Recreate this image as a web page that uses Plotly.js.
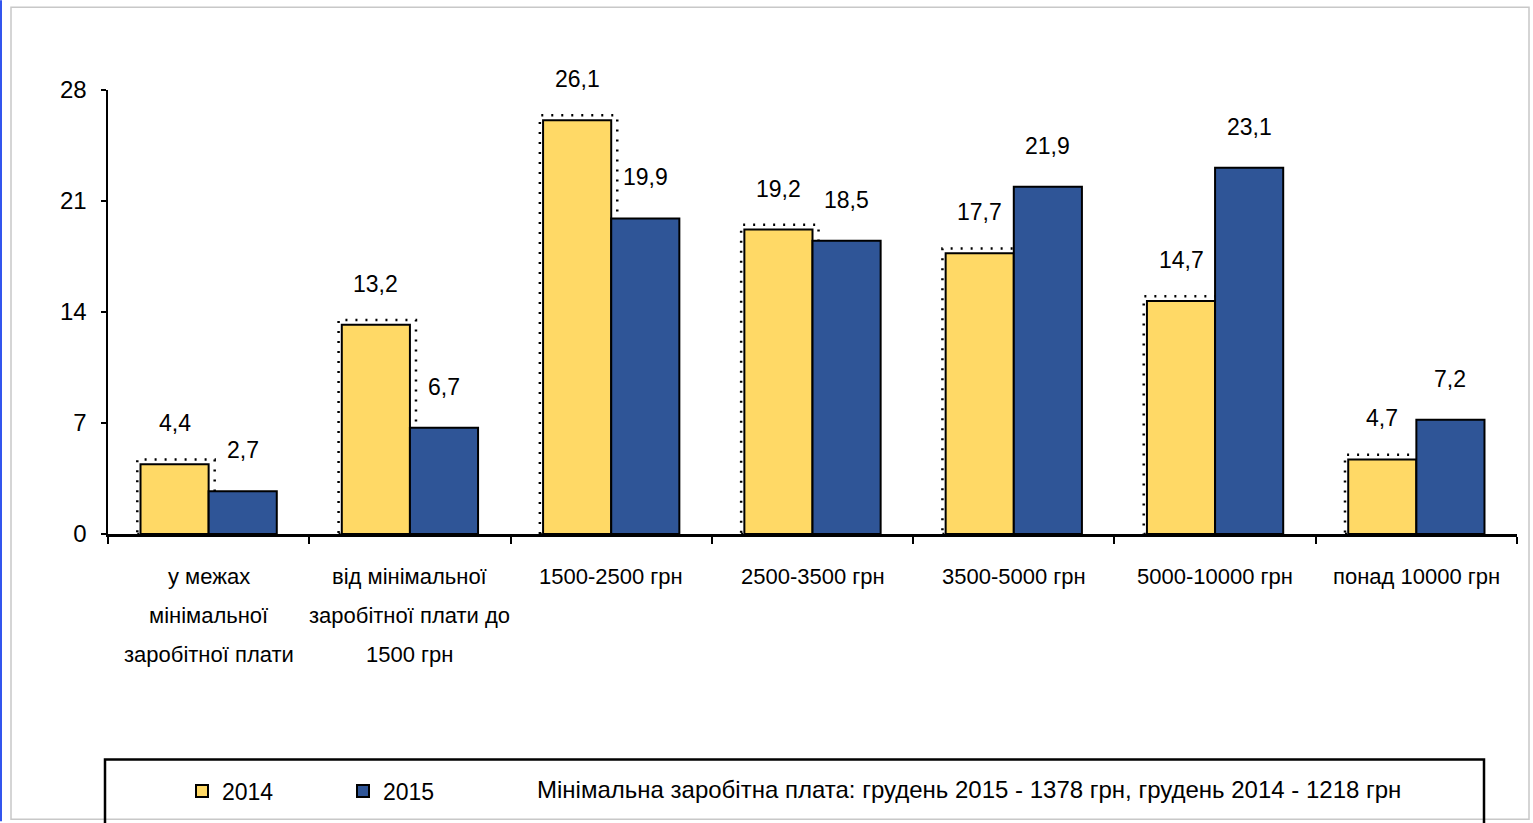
<!DOCTYPE html>
<html>
<head>
<meta charset="utf-8">
<script src="https://cdn.plot.ly/plotly-3.0.1.min.js"></script>
<style>html,body{margin:0;padding:0;background:#fff;}#chart{width:1533px;height:823px;}</style>
</head>
<body>
<div id="chart"></div>
<script>
const categories = [
  "у межах<br>мінімальної<br>заробітної плати",
  "від мінімальної<br>заробітної плати до<br>1500 грн",
  "1500-2500 грн",
  "2500-3500 грн",
  "3500-5000 грн",
  "5000-10000 грн",
  "понад 10000 грн"
];
const values2014 = [4.4, 13.2, 26.1, 19.2, 17.7, 14.7, 4.7];
const values2015 = [2.7, 6.7, 19.9, 18.5, 21.9, 23.1, 7.2];
const seriesNames = ["2014", "2015"];
const yTicks = [0, 7, 14, 21, 28];
const noteText = "Мінімальна заробітна плата: грудень 2015 - 1378 грн, грудень 2014 - 1218 грн";

const FONT = "'Liberation Sans', Arial, sans-serif";
const YELLOW = "#FFD966";
const BLUE = "#2F5597";

const W = 1533, H = 823;
const L = 108, R = 1517, T = 90, B = 535;
const px = v => (v - L) / (R - L);
const py = v => (B - v) / (B - T);

const traces = [
  {type: "bar", name: seriesNames[0], x: categories, y: values2014,
   marker: {color: YELLOW, line: {color: "#000", width: 2}}, hoverinfo: "skip"},
  {type: "bar", name: seriesNames[1], x: categories, y: values2015,
   marker: {color: BLUE, line: {color: "#000", width: 2}}, hoverinfo: "skip"}
];

const fmt = v => v.toFixed(1).replace(".", ",");
const annotations = [];
categories.forEach((c, i) => {
  annotations.push({x: c, y: values2014[i], text: fmt(values2014[i]), showarrow: false,
    xshift: -34, yshift: 26, yanchor: "bottom", font: {family: FONT, size: 23, color: "#000"}});
  annotations.push({x: c, y: values2015[i], text: fmt(values2015[i]), showarrow: false,
    xshift: 34, yshift: 26, yanchor: "bottom", font: {family: FONT, size: 23, color: "#000"}});
  // category label lines (spaced like the original)
  c.split("<br>").forEach((line, j) => {
    annotations.push({x: c, xref: "x", yref: "paper", y: py(578 + 39 * j), yanchor: "middle",
      text: line, showarrow: false, font: {family: FONT, size: 22, color: "#000"}});
  });
});
annotations.push({xref: "paper", yref: "paper", x: px(535), y: py(791), xanchor: "left", yanchor: "middle",
  text: noteText, showarrow: false, font: {family: FONT, size: 24, color: "#000"}});

const shapes = [];
// dotted shadow outline around the 2014 bars
categories.forEach((c, i) => {
  shapes.push({type: "rect", xref: "x", yref: "y", layer: "below",
    x0: i - 0.3385 - 0.016, x1: i + 0.03, y0: 0, y1: values2014[i] + 0.3,
    line: {color: "#000", width: 2.5, dash: "2px,8px"}, fillcolor: "rgba(0,0,0,0)"});
});
// outer frame
shapes.push({type: "line", xref: "paper", yref: "paper", x0: px(1), x1: px(1), y0: py(0), y1: py(H),
  line: {color: "#3355ee", width: 2}});
shapes.push({type: "rect", xref: "paper", yref: "paper", x0: px(11), x1: px(1529), y0: py(821), y1: py(7),
  line: {color: "#c8c8c8", width: 1.5}});
// legend box
shapes.push({type: "rect", xref: "paper", yref: "paper", x0: px(105), x1: px(1484), y0: py(830), y1: py(761),
  line: {color: "#000", width: 2.5}});

const layout = {
  width: W, height: H,
  margin: {l: L, r: W - R, t: T, b: H - B, pad: 0},
  paper_bgcolor: "#fff", plot_bgcolor: "#fff",
  barmode: "group", bargap: 0.323, bargroupgap: 0,
  showlegend: true,
  legend: {orientation: "h", x: px(182), y: py(791), xanchor: "left", yanchor: "middle",
    font: {family: FONT, size: 23, color: "#000"}, bgcolor: "rgba(0,0,0,0)",
    entrywidth: 116, entrywidthmode: "pixels", itemwidth: 30, traceorder: "normal"},
  xaxis: {type: "category", showline: true, linecolor: "#000", linewidth: 2.5,
    ticks: "outside", ticklen: 7, tickwidth: 2, tickcolor: "#000", tickson: "boundaries",
    showticklabels: false,
    showgrid: false, zeroline: false, fixedrange: true},
  yaxis: {range: [0, 28], tickvals: yTicks, ticktext: yTicks.map(String),
    showline: true, linecolor: "#000", linewidth: 2.5,
    ticks: "outside", ticklen: 5, tickwidth: 2, tickcolor: "#000",
    tickfont: {family: FONT, size: 24, color: "#000"}, ticklabelstandoff: 9,
    showgrid: false, zeroline: false, fixedrange: true},
  annotations: annotations,
  shapes: shapes
};

Plotly.newPlot("chart", traces, layout, {displayModeBar: false, staticPlot: true});
</script>
</body>
</html>
